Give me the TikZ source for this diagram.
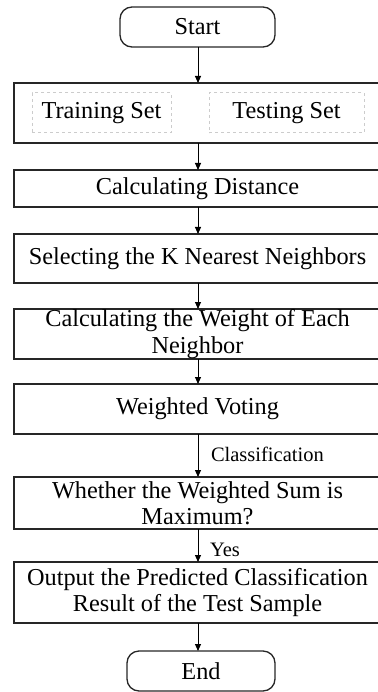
\documentclass[tikz,border=0pt]{standalone}
\usepackage{fontspec}
\setmainfont{Liberation Serif}
\usetikzlibrary{arrows.meta}
\begin{document}
\begin{tikzpicture}[x=1pt,y=-1pt,
  every node/.style={inner sep=0pt,outer sep=0pt},
  stepbox/.style={draw=black!85,line width=1.6pt,minimum width=367pt,align=center,
    font=\fontsize{24.3}{26.5}\selectfont},
  term/.style={draw=black!85,line width=1.3pt,rounded corners=12pt,
    font=\fontsize{24.3}{26.5}\selectfont},
  setbox/.style={draw=black!20,dashed,line width=1pt,minimum height=40pt,
    font=\fontsize{24.3}{26.5}\selectfont},
  conn/.style={line width=0.9pt,-{Triangle[length=7pt,width=6pt]}},
  lbl/.style={anchor=west,font=\fontsize{20.5}{22}\selectfont}]
\useasboundingbox (0,0) rectangle (377,692);
\node[term,minimum width=155pt,minimum height=40pt] (start) at (197.5,27) {Start};
\node[stepbox,minimum height=60pt] (data) at (197.5,113) {};
\node[setbox,minimum width=139pt] (train) at (101.5,113) {Training Set};
\node[setbox,minimum width=155pt] (test) at (286.5,113) {Testing Set};
\node[stepbox,minimum height=37pt] (dist) at (197.5,188.5) {Calculating Distance};
\node[stepbox,minimum height=49pt] (knn) at (197.5,258.5) {Selecting the K Nearest Neighbors};
\node[stepbox,minimum height=50pt] (weight) at (197.5,334) {Calculating the Weight of Each\\Neighbor};
\node[stepbox,minimum height=50pt] (vote) at (197.5,409) {Weighted Voting};
\node[stepbox,minimum height=52pt] (max) at (197.5,503) {Whether the Weighted Sum is\\Maximum?};
\node[stepbox,minimum height=61pt] (out) at (197.5,592.5) {Output the Predicted Classification\\Result of the Test Sample};
\node[term,minimum width=148pt,minimum height=40pt] (end) at (201,671) {End};
\coordinate (ax) at (198,0);
\draw[conn] (start.south -| ax) -- (data.north -| ax);
\draw[conn] (data.south -| ax) -- (dist.north -| ax);
\draw[conn] (dist.south -| ax) -- (knn.north -| ax);
\draw[conn] (knn.south -| ax) -- (weight.north -| ax);
\draw[conn] (weight.south -| ax) -- (vote.north -| ax);
\draw[conn] (vote.south -| ax) -- (max.north -| ax);
\draw[conn] (max.south -| ax) -- (out.north -| ax);
\draw[conn] (out.south -| ax) -- (end.north -| ax);
\node[lbl] (cls) at (211,454) {Classification};
\node[lbl] (yes) at (210,550) {Yes};
\end{tikzpicture}
\end{document}
